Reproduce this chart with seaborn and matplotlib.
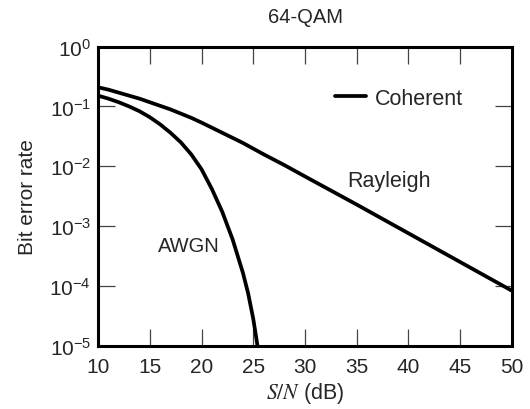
import numpy as np
import pandas as pd
import matplotlib.pyplot as plt
import matplotlib.ticker as mticker
import seaborn as sns

# values (log10 of bit error rate)
snr_rayleigh = [10, 11, 12, 13, 14, 15, 16, 17, 18, 19, 20, 22, 24, 26, 28, 30,
                35, 40, 45, 50]
log_ber_rayleigh = [-0.68, -0.72, -0.77, -0.82, -0.87, -0.93, -0.99, -1.05, -1.12,
                    -1.19, -1.27, -1.44, -1.61, -1.80, -1.98, -2.17,
                    -2.64, -3.12, -3.60, -4.08]

snr_awgn = [10, 11, 12, 13, 14, 15, 16, 17, 18, 19, 20, 21, 22, 23, 24, 24.5,
            25, 25.5]
log_ber_awgn = [-0.82, -0.87, -0.93, -1.00, -1.08, -1.18, -1.30, -1.44, -1.60,
                -1.80, -2.05, -2.38, -2.76, -3.22, -3.78, -4.12, -4.55, -5.10]

x_ticks = [10, 15, 20, 25, 30, 35, 40, 45, 50]
y_ticks = [1e-5, 1e-4, 1e-3, 1e-2, 1e-1, 1e0]

df_r = pd.DataFrame({'snr': snr_rayleigh, 'ber': 10.0 ** np.array(log_ber_rayleigh)})
df_a = pd.DataFrame({'snr': snr_awgn, 'ber': 10.0 ** np.array(log_ber_awgn)})

sns.set_style("ticks")
plt.rcParams['font.family'] = ['Liberation Sans', 'DejaVu Sans']
plt.rcParams['mathtext.fontset'] = 'stix'

fig = plt.figure(figsize=(5.3, 4.1), dpi=100)
ax = fig.add_axes([0.185, 0.154, 0.781, 0.730])

sns.lineplot(data=df_r, x='snr', y='ber', ax=ax, color='black', lw=2.7, label='Coherent')
sns.lineplot(data=df_a, x='snr', y='ber', ax=ax, color='black', lw=2.7)

ax.set_yscale('log')
ax.set_xlim(10, 50)
ax.set_ylim(1e-5, 1)
ax.set_xticks(x_ticks)
ax.set_yticks(y_ticks)
ax.yaxis.set_major_formatter(mticker.LogFormatterSciNotation())
ax.yaxis.set_minor_locator(mticker.NullLocator())
ax.tick_params(which='major', direction='in', length=12.5, width=0.9, color='#444',
               top=True, right=True, labelsize=15)
ax.tick_params(axis='x', pad=8)
ax.tick_params(axis='y', pad=5)
for s in ax.spines.values():
    s.set_linewidth(2.2)
    s.set_color('black')

ax.text(34.1, 10 ** -2.23, 'Rayleigh', fontsize=15.5, va='center', ha='left')
ax.text(15.8, 10 ** -3.33, 'AWGN', fontsize=14.5, va='center', ha='left')

ax.legend(loc='center left', bbox_to_anchor=(0.572, 0.828), frameon=False,
          borderpad=0, borderaxespad=0, handlelength=1.45, handletextpad=0.42,
          fontsize=15.5)

ax.set_title('64-QAM', fontsize=14.5, pad=18)
ax.set_xlabel(r'$S/N$ (dB)', fontsize=15.5, labelpad=3)
ax.set_ylabel('Bit error rate', fontsize=15, labelpad=9)

fig.savefig('out.png', dpi=100)
